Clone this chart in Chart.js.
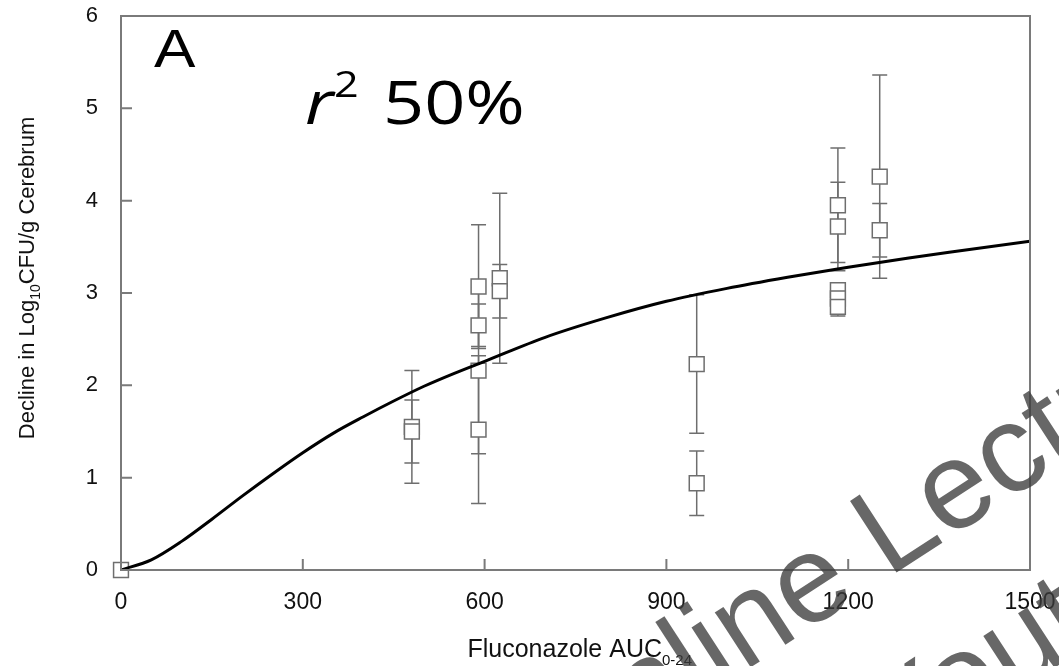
<!DOCTYPE html>
<html>
<head>
<meta charset="utf-8">
<script src="https://cdn.jsdelivr.net/npm/chart.js@4.4.1/dist/chart.umd.min.js"></script>
<style>
  html, body { margin: 0; padding: 0; background: #fff; }
  #wrap { width: 1059px; height: 666px; }
</style>
</head>
<body>
<div id="wrap"><canvas id="chart" width="1059" height="666"></canvas></div>
<script>
// Group means: fluconazole AUC(0-24) vs decline in log10 CFU/g cerebrum
const aucX    = [0, 480, 480, 590, 590, 590, 590, 625, 625, 950, 950, 1183, 1183, 1183, 1183, 1183, 1252, 1252];
const decline = [0, 1.55, 1.50, 3.07, 2.65, 2.16, 1.52, 3.16, 3.02, 2.23, 0.94, 3.95, 3.72, 3.03, 2.94, 2.85, 4.26, 3.68];
const sdErr   = [0, 0.61, 0.34, 0.67, 0.23, 0.90, 0.80, 0.92, 0.29, 0.75, 0.35, 0.62, 0.48, 0.08, 0.10, 0.10, 1.10, 0.29];

// Fitted sigmoid Emax curve, sampled along the AUC axis
const fitX = [0, 50, 100, 150, 200, 250, 300, 350, 400, 450, 500, 550, 600, 700, 800, 900, 1000, 1100, 1200, 1300, 1400, 1500];
const fitY = [0, 0.11, 0.31, 0.55, 0.80, 1.04, 1.27, 1.48, 1.66, 1.83, 1.99, 2.13, 2.26, 2.52, 2.73, 2.91, 3.05, 3.17, 3.28, 3.38, 3.47, 3.56];

const xTicks = [0, 300, 600, 900, 1200, 1500];
const yTicks = [0, 1, 2, 3, 4, 5, 6];

const AXIS = '#7a7a7a';
const MARK = '#6e6e6e';
const FONT = "'Liberation Sans', Arial, sans-serif";

// vertical SD bars with caps, drawn underneath the markers
const errorBars = {
  id: 'errorBars',
  beforeDatasetsDraw(chart) {
    const { ctx, scales: { x, y } } = chart;
    ctx.save();
    ctx.strokeStyle = MARK;
    ctx.lineWidth = 1.5;
    aucX.forEach((v, i) => {
      if (!sdErr[i]) return;
      const px = x.getPixelForValue(v);
      const hi = y.getPixelForValue(decline[i] + sdErr[i]);
      const lo = y.getPixelForValue(decline[i] - sdErr[i]);
      ctx.beginPath();
      ctx.moveTo(px, hi); ctx.lineTo(px, lo);
      ctx.moveTo(px - 7.5, hi); ctx.lineTo(px + 7.5, hi);
      ctx.moveTo(px - 7.5, lo); ctx.lineTo(px + 7.5, lo);
      ctx.stroke();
    });
    ctx.restore();
  }
};

// text run with a lowered subscript part
function subText(ctx, parts, x, y) {
  let cx = x;
  parts.forEach(p => {
    ctx.font = p.size + 'px ' + FONT;
    ctx.fillText(p.t, cx, y + (p.dy || 0));
    cx += ctx.measureText(p.t).width;
  });
}
function subWidth(ctx, parts) {
  return parts.reduce((w, p) => { ctx.font = p.size + 'px ' + FONT; return w + ctx.measureText(p.t).width; }, 0);
}

// horizontally widened label
function wideText(ctx, t, font, x, y, sx) {
  ctx.save();
  ctx.translate(x, y);
  ctx.scale(sx, 1);
  ctx.font = font;
  ctx.fillText(t, 0, 0);
  ctx.restore();
}

// frame, inward tick marks, axis titles and panel labels
const frame = {
  id: 'frame',
  afterDraw(chart) {
    const { ctx, chartArea: a, scales: { x, y } } = chart;
    ctx.save();
    ctx.strokeStyle = AXIS;
    ctx.lineWidth = 2;
    ctx.strokeRect(a.left, a.top, a.right - a.left, a.bottom - a.top);
    ctx.beginPath();
    xTicks.slice(1, -1).forEach(v => {
      const px = x.getPixelForValue(v);
      ctx.moveTo(px, a.bottom); ctx.lineTo(px, a.bottom - 11);
    });
    yTicks.slice(1, -1).forEach(v => {
      const py = y.getPixelForValue(v);
      ctx.moveTo(a.left, py); ctx.lineTo(a.left + 11, py);
    });
    ctx.stroke();

    ctx.fillStyle = '#111';
    ctx.textBaseline = 'alphabetic';
    ctx.textAlign = 'left';

    // x title
    const xParts = [{ t: 'Fluconazole AUC', size: 25 }, { t: '0-24', size: 15, dy: 8 }];
    ctx.font = '25px ' + FONT;
    const head = ctx.measureText(xParts[0].t).width;
    subText(ctx, xParts, 662 - head, 657);

    // y title, rotated
    const yParts = [{ t: 'Decline in Log', size: 22 }, { t: '10', size: 14, dy: 6 }, { t: 'CFU/g Cerebrum', size: 22 }];
    ctx.save();
    ctx.translate(34, 278);
    ctx.rotate(-Math.PI / 2);
    subText(ctx, yParts, -subWidth(ctx, yParts) / 2, 0);
    ctx.restore();

    // panel letter and fit statistic
    ctx.fillStyle = '#000';
    wideText(ctx, 'A', '54px ' + FONT, 154, 67, 1.15);
    wideText(ctx, 'r', "italic 60px 'Open Sans', sans-serif", 305, 124, 1.2);
    wideText(ctx, '2', "36px 'Open Sans', sans-serif", 334, 97, 1.2);
    wideText(ctx, '50%', "60px 'Open Sans', sans-serif", 383, 124, 1.2);

    // overlay lettering
    ctx.fillStyle = 'rgba(60,60,60,0.78)';
    ctx.font = '124px ' + FONT;
    ctx.save();
    ctx.translate(888, 578);
    ctx.rotate(-33 * Math.PI / 180);
    ctx.textAlign = 'right';
    ctx.fillText('Online ', 0, 0);
    ctx.textAlign = 'left';
    ctx.fillText('Lecture', 0, 0);
    ctx.fillText('Youtube', -100, 166);
    ctx.restore();

    ctx.restore();
  }
};

new Chart(document.getElementById('chart'), {
  type: 'scatter',
  data: {
    datasets: [
      {
        type: 'line',
        label: 'Fit',
        data: fitX.map((v, i) => ({ x: v, y: fitY[i] })),
        borderColor: '#000',
        borderWidth: 3,
        pointRadius: 0,
        cubicInterpolationMode: 'monotone',
        fill: false,
        order: 1
      },
      {
        label: 'Observed',
        data: aucX.map((v, i) => ({ x: v, y: decline[i] })),
        pointStyle: 'rect',
        pointRadius: 10.5,
        pointBorderWidth: 1.5,
        pointBorderColor: MARK,
        pointBackgroundColor: '#fff',
        clip: false,
        order: 2
      }
    ]
  },
  options: {
    responsive: false,
    animation: false,
    devicePixelRatio: 1,
    layout: { padding: { left: 0, right: 29, top: 16, bottom: 0 } },
    plugins: { legend: { display: false }, tooltip: { enabled: false } },
    scales: {
      x: {
        type: 'linear', min: 0, max: 1500,
        afterFit: s => { s.height = 96; s.paddingLeft = 0; s.paddingRight = 0; },
        afterBuildTicks: s => { s.ticks = xTicks.map(v => ({ value: v })); },
        grid: { display: false, drawTicks: false },
        border: { display: false },
        ticks: { color: '#111', font: { family: FONT, size: 23 }, padding: 19, maxRotation: 0, autoSkip: false,
                 callback: v => String(v) }
      },
      y: {
        type: 'linear', min: 0, max: 6,
        afterFit: s => { s.width = 121; s.paddingTop = 0; s.paddingBottom = 0; },
        afterBuildTicks: s => { s.ticks = yTicks.map(v => ({ value: v })); },
        grid: { display: false, drawTicks: false },
        border: { display: false },
        ticks: { color: '#111', font: { family: FONT, size: 22 }, padding: 23, callback: v => String(v) }
      }
    }
  },
  plugins: [errorBars, frame]
});
</script>
</body>
</html>
